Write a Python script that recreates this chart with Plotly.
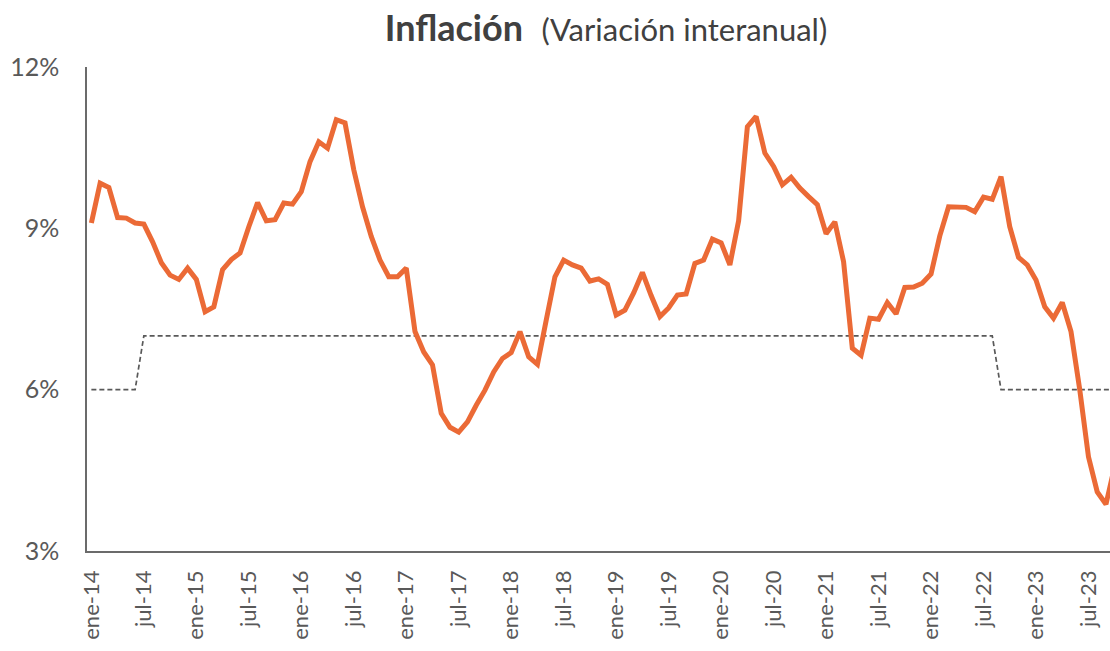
import plotly.graph_objects as go

meses = ["ene", "feb", "mar", "abr", "may", "jun", "jul", "ago", "sep", "oct", "nov", "dic"]
categorias = [f"{m}-{a}" for a in range(14, 24) for m in meses][:118]

inflacion = [
    9.10, 9.84, 9.76, 9.20, 9.19, 9.10, 9.08, 8.75, 8.36, 8.13, 8.05, 8.26,
    8.05, 7.45, 7.54, 8.23, 8.42, 8.54, 9.03, 9.48, 9.14, 9.16, 9.47, 9.45,
    9.68, 10.24, 10.61, 10.49, 11.02, 10.96, 10.09, 9.40, 8.85, 8.41, 8.10, 8.10,
    8.26, 7.08, 6.70, 6.46, 5.56, 5.30, 5.21, 5.40, 5.71, 5.99, 6.33, 6.58,
    6.69, 7.08, 6.61, 6.47, 7.29, 8.10, 8.41, 8.32, 8.26, 8.02, 8.06, 7.96,
    7.39, 7.48, 7.80, 8.18, 7.75, 7.36, 7.52, 7.76, 7.78, 8.35, 8.41, 8.80,
    8.73, 8.32, 9.14, 10.89, 11.08, 10.40, 10.15, 9.81, 9.95, 9.75, 9.59, 9.44,
    8.90, 9.12, 8.38, 6.77, 6.64, 7.33, 7.31, 7.62, 7.41, 7.90, 7.91, 7.98,
    8.15, 8.86, 9.40, 9.39, 9.39, 9.31, 9.58, 9.54, 9.96, 9.03, 8.46, 8.32,
    8.04, 7.54, 7.33, 7.62, 7.08, 6.00, 4.75, 4.10, 3.87, 4.58,
]

meta = [6.0] * 6 + [7.0] * 98 + [6.0] * 14

tick_idx = list(range(0, 118, 6))
tick_labels = [categorias[i] for i in tick_idx]
y_ticks = [3, 6, 9, 12]
y_labels = ["3%", "6%", "9%", "12%"]

x = list(range(len(categorias)))

fig = go.Figure()
fig.add_trace(go.Scatter(
    x=x, y=meta, mode="lines",
    line=dict(color="#595959", width=1.7, dash="5px,3px"),
    hoverinfo="skip", showlegend=False,
))
fig.add_trace(go.Scatter(
    x=x, y=inflacion, mode="lines",
    line=dict(color="#EB6A36", width=5),
    text=categorias, hovertemplate="%{text}: %{y:.2f}%<extra></extra>",
    showlegend=False,
))

fig.update_layout(
    width=1110, height=651,
    margin=dict(l=87, r=0, t=67, b=100),
    paper_bgcolor="white", plot_bgcolor="white",
    font=dict(family="Lato, Open Sans, sans-serif", color="#595959"),
    title=dict(
        text="<b>Inflación</b>  <span style='font-size:31px'>(Variación interanual)</span>",
        x=606 / 1110, xanchor="center", xref="container",
        y=1 - 28 / 651, yanchor="middle",
        font=dict(size=36, color="#404040", family="Lato, Open Sans, sans-serif"),
    ),
)

fig.update_xaxes(
    range=[-0.5, 116.46],
    tickmode="array", tickvals=tick_idx, ticktext=tick_labels,
    tickangle=-90, tickfont=dict(size=22, color="#595959"),
    showgrid=False, zeroline=False,
    showline=True, linecolor="#6b6b6b", linewidth=1.5,
    ticks="", ticklabelstandoff=9,
)
fig.update_yaxes(
    range=[3, 12],
    tickmode="array", tickvals=y_ticks, ticktext=y_labels,
    tickfont=dict(size=25, color="#595959"),
    showgrid=False, zeroline=False,
    showline=True, linecolor="#6b6b6b", linewidth=1.5,
    ticks="", ticklabelstandoff=21,
)

fig.write_html(
    "out.html",
    config={"displayModeBar": False},
    post_script="document.body.style.margin='0';document.body.style.overflow='hidden';",
)
